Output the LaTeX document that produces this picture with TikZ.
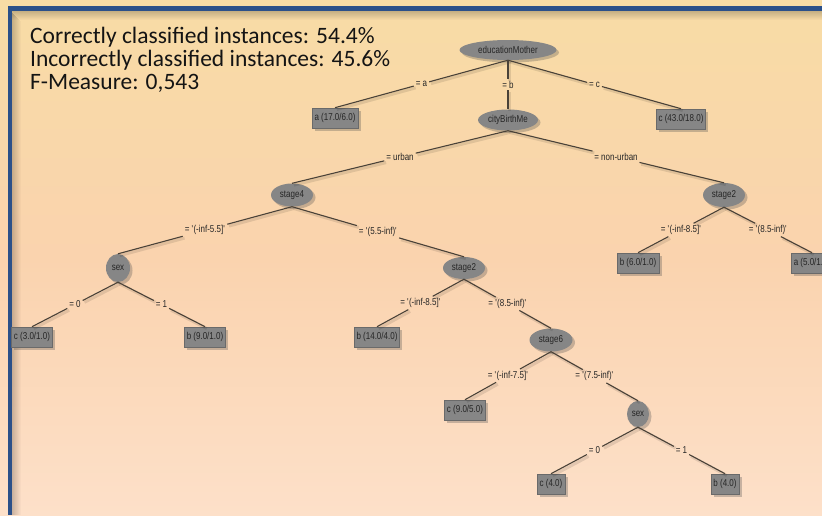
\documentclass[tikz,border=0pt]{standalone}
\usepackage{fontspec}
\setmainfont{Carlito}
\newfontfamily\treefont[FakeStretch=0.8]{Liberation Sans}
\usetikzlibrary{shadows,calc,shapes.geometric}
\definecolor{bgtop}{HTML}{F8DCA5}
\definecolor{bgmid}{HTML}{FAD3AE}
\definecolor{bgbot}{HTML}{FDE0C9}
\definecolor{blueline}{HTML}{2B5089}
\definecolor{nodegray}{HTML}{868686}
\definecolor{leafborder}{HTML}{6A6A6A}
\definecolor{edgecol}{HTML}{4A4238}
\definecolor{treetext}{HTML}{262626}
\newcommand\myq{\textquotesingle}
\tikzset{
  treenode/.style={fill=nodegray, text=treetext, inner sep=0pt,
    font=\treefont\fontsize{10}{11}\selectfont,
    drop shadow={shadow xshift=2.5pt, shadow yshift=-2.5pt, opacity=0.3, fill=black!70}},
  inner/.style={treenode, ellipse},
  leaf/.style={treenode, rectangle, draw=leafborder, line width=0.6pt, minimum height=20pt, inner xsep=2pt},
  elab/.style={inner sep=1.8pt, text=treetext, font=\treefont\fontsize{10}{11}\selectfont},
  edge/.style={draw=edgecol, line width=1.1pt,
    preaction={draw=black, opacity=0.1, line width=3pt, transform canvas={xshift=1.8pt, yshift=-1.8pt}}},
  info/.style={anchor=base west, inner sep=0pt, font=\fontsize{23.5}{26}\selectfont, text=black!92}
}
\begin{document}
\begin{tikzpicture}[x=1pt,y=-1pt]
\useasboundingbox (0,0) rectangle (822,515);
% background
\shade[top color=bgtop, bottom color=bgbot, middle color=bgmid] (0,0) rectangle (822,515);
% shadows of the frame lines
\foreach \i in {1,...,9} {
  \draw[black, opacity={0.045*(10-\i)/2}, line width=1pt] (12,{10.5+\i}) -- (822,{10.5+\i});
  \draw[black, opacity={0.045*(10-\i)/2}, line width=1pt] ({11.5+\i},{12+\i}) -- ({11.5+\i},515);
}
% frame lines
\draw[blueline, line width=5pt] (8,8.5) -- (822,8.5);
\draw[blueline, line width=4pt] (10,6) -- (10,515);

% statistics text
\node[info] (t1) at (30,43) {Correctly classified instances: 54.4\%};
\node[info] (t2) at (30,66) {Incorrectly classified instances: 45.6\%};
\node[info] (t3) at (30,89) {F-Measure: 0,543};

% tree nodes
\node[inner, minimum width=97pt, minimum height=20pt] (eM) at (508,50) {educationMother};
\node[leaf, minimum width=46pt] (a17) at (335,118) {a (17.0/6.0)};
\node[inner, minimum width=60pt, minimum height=21pt] (cB) at (508,120) {cityBirthMe};
\node[leaf, minimum width=49pt] (c43) at (681,119) {c (43.0/18.0)};
\node[inner, minimum width=42pt, minimum height=23pt] (s4) at (292,195) {stage4};
\node[inner, minimum width=42pt, minimum height=24pt] (s2r) at (724,195) {stage2};
\node[leaf, minimum width=42pt] (b6) at (638,263) {b (6.0/1.0)};
\node[leaf, minimum width=42pt] (a5) at (812,263) {a (5.0/1.0)};
\node[inner, minimum width=24pt, minimum height=28pt] (sexL) at (118,268) {sex};
\node[leaf, minimum width=41pt] (c3) at (32,337) {c (3.0/1.0)};
\node[leaf, minimum width=41pt] (b9) at (205,337) {b (9.0/1.0)};
\node[inner, minimum width=42pt, minimum height=22pt] (s2m) at (464,268) {stage2};
\node[leaf, minimum width=45pt] (b14) at (377,337) {b (14.0/4.0)};
\node[inner, minimum width=43pt, minimum height=23pt] (s6) at (551,340) {stage6};
\node[leaf, minimum width=41pt] (c9) at (465,410) {c (9.0/5.0)};
\node[inner, minimum width=22pt, minimum height=26pt] (sexR) at (638,414) {sex};
\node[leaf, minimum width=28pt] (c4) at (551,484) {c (4.0)};
\node[leaf, minimum width=28pt] (b4) at (725,484) {b (4.0)};

% edge labels
\path ($(eM.south)!0.5!(a17.north)$) node[elab] (l1) {= a};
\path ($(eM.south)!0.5!(cB.north)$) node[elab] (l2) {= b};
\path ($(eM.south)!0.5!(c43.north)$) node[elab] (l3) {= c};
\path ($(cB.south)!0.5!(s4.north)$) node[elab] (l4) {= urban};
\path ($(cB.south)!0.5!(s2r.north)$) node[elab] (l5) {= non-urban};
\path ($(s2r.south)!0.5!(b6.north)$) node[elab] (l6) {= \myq(-inf-8.5]\myq};
\path ($(s2r.south)!0.5!(a5.north)$) node[elab] (l7) {= \myq(8.5-inf)\myq};
\path ($(s4.south)!0.5!(sexL.north)$) node[elab] (l8) {= \myq(-inf-5.5]\myq};
\path ($(s4.south)!0.5!(s2m.north)$) node[elab] (l9) {= \myq(5.5-inf)\myq};
\path ($(sexL.south)!0.5!(c3.north)$) node[elab] (l10) {= 0};
\path ($(sexL.south)!0.5!(b9.north)$) node[elab] (l11) {= 1};
\path ($(s2m.south)!0.5!(b14.north)$) node[elab] (l12) {= \myq(-inf-8.5]\myq};
\path ($(s2m.south)!0.5!(s6.north)$) node[elab] (l13) {= \myq(8.5-inf)\myq};
\path ($(s6.south)!0.5!(c9.north)$) node[elab] (l14) {= \myq(-inf-7.5]\myq};
\path ($(s6.south)!0.5!(sexR.north)$) node[elab] (l15) {= \myq(7.5-inf)\myq};
\path ($(sexR.south)!0.5!(c4.north)$) node[elab] (l16) {= 0};
\path ($(sexR.south)!0.5!(b4.north)$) node[elab] (l17) {= 1};

% edges
\draw[edge] (eM.south) -- (l1) -- (a17.north);
\draw[edge] (eM.south) -- (l2) -- (cB.north);
\draw[edge] (eM.south) -- (l3) -- (c43.north);
\draw[edge] (cB.south) -- (l4) -- (s4.north);
\draw[edge] (cB.south) -- (l5) -- (s2r.north);
\draw[edge] (s2r.south) -- (l6) -- (b6.north);
\draw[edge] (s2r.south) -- (l7) -- (a5.north);
\draw[edge] (s4.south) -- (l8) -- (sexL.north);
\draw[edge] (s4.south) -- (l9) -- (s2m.north);
\draw[edge] (sexL.south) -- (l10) -- (c3.north);
\draw[edge] (sexL.south) -- (l11) -- (b9.north);
\draw[edge] (s2m.south) -- (l12) -- (b14.north);
\draw[edge] (s2m.south) -- (l13) -- (s6.north);
\draw[edge] (s6.south) -- (l14) -- (c9.north);
\draw[edge] (s6.south) -- (l15) -- (sexR.north);
\draw[edge] (sexR.south) -- (l16) -- (c4.north);
\draw[edge] (sexR.south) -- (l17) -- (b4.north);
\end{tikzpicture}
\end{document}
